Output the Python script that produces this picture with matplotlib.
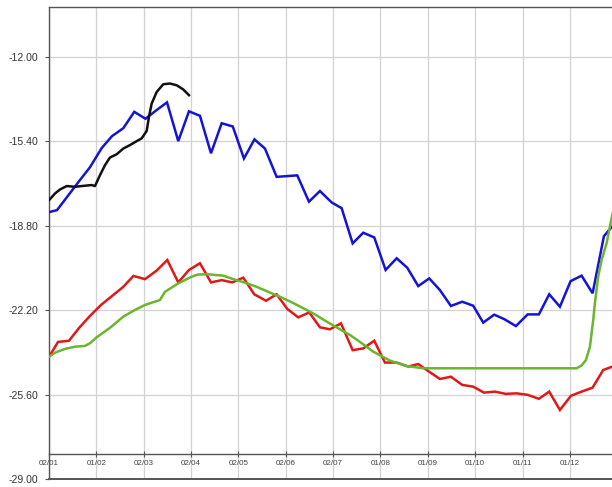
import matplotlib
matplotlib.use("Agg")
import matplotlib.pyplot as plt

# x in month units (0 = 02/01, 1 = 01/02, ...)
tick_labels = ["02/01", "01/02", "02/03", "02/04", "02/05", "02/06",
               "02/07", "01/08", "01/09", "01/10", "01/11", "01/12"]
y_ticks = [-12.00, -15.40, -18.80, -22.20, -25.60, -29.00]

blue_x = [0, 0.169, 0.401, 0.633, 0.866, 1.113, 1.330, 1.569, 1.801, 2.038,
          2.259, 2.492, 2.730, 2.956, 3.188, 3.421, 3.647, 3.881, 4.117, 4.339,
          4.561, 4.808, 5.025, 5.243, 5.490, 5.722, 5.969, 6.180, 6.413, 6.636,
          6.869, 7.109, 7.342, 7.566, 7.798, 8.030, 8.256, 8.488, 8.727, 8.959,
          9.170, 9.402, 9.614, 9.861, 10.108, 10.346, 10.564, 10.790, 11.016,
          11.248, 11.480, 11.719, 11.95]
blue_y = [-18.25, -18.17, -17.59, -17.01, -16.44, -15.67, -15.19, -14.87, -14.21, -14.49,
          -14.16, -13.83, -15.39, -14.19, -14.37, -15.88, -14.67, -14.80, -16.09, -15.32,
          -15.69, -16.83, -16.80, -16.77, -17.83, -17.40, -17.86, -18.09, -19.51, -19.08,
          -19.27, -20.58, -20.11, -20.49, -21.23, -20.92, -21.39, -22.03, -21.86, -22.02,
          -22.70, -22.38, -22.56, -22.84, -22.37, -22.37, -21.56, -22.06, -21.03,
          -20.81, -21.52, -19.22, -18.70]

black_x = [0, 0.127, 0.232, 0.374, 0.549, 0.690, 0.902, 0.971, 1.077, 1.182,
           1.288, 1.429, 1.569, 1.710, 1.852, 1.957, 2.063, 2.111, 2.168, 2.274,
           2.413, 2.555, 2.696, 2.836, 2.956]
black_y = [-17.77, -17.50, -17.34, -17.20, -17.23, -17.20, -17.16, -17.20, -16.76, -16.36,
           -16.05, -15.92, -15.69, -15.55, -15.39, -15.28, -14.98, -14.41, -13.88, -13.41,
           -13.10, -13.07, -13.14, -13.31, -13.54]

red_x = [0, 0.19, 0.422, 0.633, 0.866, 1.098, 1.330, 1.563, 1.784, 2.027,
         2.270, 2.498, 2.730, 2.956, 3.188, 3.421, 3.647, 3.870, 4.103, 4.335,
         4.582, 4.808, 5.032, 5.264, 5.496, 5.722, 5.933, 6.166, 6.413, 6.636,
         6.869, 7.095, 7.342, 7.587, 7.798, 8.030, 8.256, 8.488, 8.727, 8.959,
         9.185, 9.417, 9.643, 9.875, 10.108, 10.346, 10.564, 10.790, 11.022,
         11.248, 11.480, 11.704, 11.93]
red_y = [-24.08, -23.48, -23.43, -22.92, -22.43, -21.99, -21.63, -21.27, -20.82, -20.95,
         -20.61, -20.18, -21.08, -20.58, -20.31, -21.08, -20.99, -21.08, -20.89, -21.56,
         -21.82, -21.56, -22.15, -22.49, -22.29, -22.89, -22.97, -22.73, -23.81, -23.74,
         -23.43, -24.31, -24.31, -24.47, -24.37, -24.68, -24.97, -24.88, -25.21, -25.28,
         -25.52, -25.48, -25.57, -25.55, -25.61, -25.77, -25.48, -26.22, -25.65,
         -25.48, -25.32, -24.61, -24.45]

green_x = [0, 0.127, 0.338, 0.549, 0.760, 0.866, 1.007, 1.288, 1.569, 1.816,
           2.027, 2.168, 2.344, 2.449, 2.730, 3.013, 3.152, 3.400, 3.680, 3.891,
           4.139, 4.386, 4.631, 4.878, 5.125, 5.370, 5.617, 5.864, 6.108, 6.356,
           6.524, 6.848, 7.200, 7.553, 7.903, 11.142, 11.248, 11.339, 11.423, 11.493,
           11.529, 11.598, 11.670, 11.776, 11.881, 11.93]
green_y = [-24.08, -23.91, -23.76, -23.67, -23.64, -23.53, -23.29, -22.91, -22.46, -22.19,
           -21.99, -21.90, -21.79, -21.46, -21.12, -20.85, -20.76, -20.76, -20.81, -20.95,
           -21.09, -21.26, -21.46, -21.66, -21.88, -22.12, -22.37, -22.66, -22.93, -23.20,
           -23.42, -23.87, -24.23, -24.45, -24.54, -24.54, -24.43, -24.21, -23.68, -22.60,
           -21.92, -20.85, -20.18, -19.51, -18.50, -18.09]

fig = plt.figure(figsize=(6.12, 4.87), dpi=100)
ax = fig.add_axes([49 / 612, 1 - 479 / 487, 1 - 49 / 612, (479 - 7.3) / 487])

ax.set_xlim(0, 11.89)
ax.set_ylim(-29.0, -10.0)

grid_c = "#d2d2d2"
for t in range(len(tick_labels)):
    ax.axvline(t, color=grid_c, lw=0.9, zorder=0)
for yv in y_ticks:
    ax.axhline(yv, color=grid_c, lw=0.9, zorder=0)

lw = 1.8
ax.plot(blue_x, blue_y, color="#1414d2", lw=lw, zorder=3, solid_joinstyle="miter")
ax.plot(black_x, black_y, color="#111111", lw=lw, zorder=3)
ax.plot(red_x, red_y, color="#e01818", lw=lw, zorder=3, solid_joinstyle="miter")
ax.plot(green_x, green_y, color="#6cb52e", lw=lw, zorder=4)

spine_c = "#555555"
for s in ["left", "top", "bottom"]:
    ax.spines[s].set_color(spine_c)
    ax.spines[s].set_linewidth(1.0)
ax.spines["right"].set_visible(False)
ax.spines["bottom"].set_position(("data", -28.0))
ax.axhline(-29.0, color=spine_c, lw=1.4, zorder=5, clip_on=False)

ax.set_xticks(range(len(tick_labels)))
ax.set_xticklabels(tick_labels, fontsize=5.8, color="#444444", family="Liberation Sans")
ax.tick_params(axis="x", direction="inout", length=4, width=0.8, colors=spine_c,
               labelcolor="#444444", pad=2)

ax.set_yticks(y_ticks)
ax.set_yticklabels([f"{v:.2f}" for v in y_ticks], fontsize=7.6, color="#333333",
                   family="Liberation Sans")
ax.tick_params(axis="y", direction="out", length=3, width=0.8, colors=spine_c,
               labelcolor="#333333", pad=5)

fig.savefig("out.png", dpi=100)
